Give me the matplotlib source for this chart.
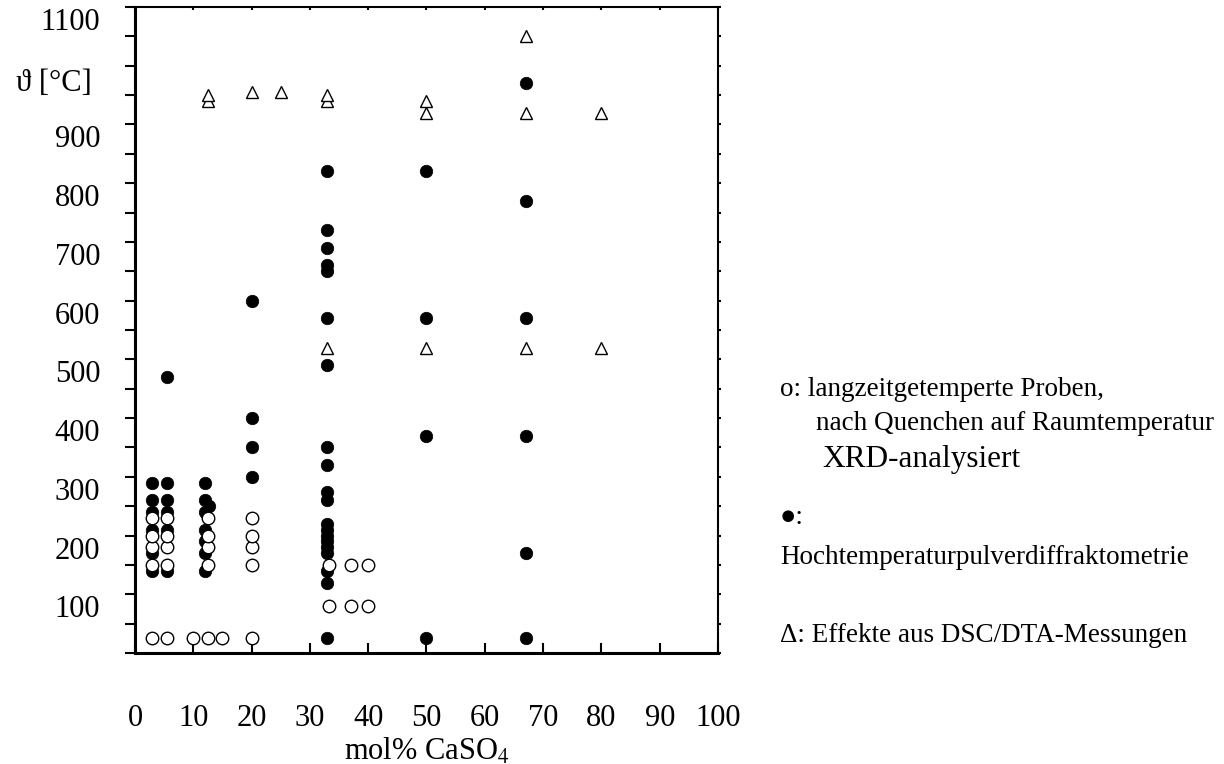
import matplotlib
matplotlib.use('Agg')
import matplotlib.pyplot as plt
from matplotlib.transforms import ScaledTranslation

plt.rcParams['font.family'] = ['Liberation Serif', 'DejaVu Serif']
plt.rcParams['mathtext.fontset'] = 'stix'

# filled circles: Hochtemperaturpulverdiffraktometrie (column x -> temperatures)
hot_cols = [3, 5.5, 12, 12.7, 20, 33, 50, 67]
hot_temps = [
    [140, 170, 210, 240, 260, 290],
    [140, 210, 240, 260, 290, 470],
    [140, 170, 190, 210, 240, 260, 290],
    [250],
    [300, 350, 400, 600],
    [25, 120, 140, 170, 180, 190, 200, 210, 220, 260, 275, 320, 350,
     490, 570, 650, 660, 690, 720, 820],
    [25, 370, 570, 820],
    [25, 170, 370, 570, 770, 970],
]

# open circles: langzeitgetemperte Proben (XRD after quenching)
quench_cols = [3, 5.5, 10, 12.5, 15, 20, 33.3, 37, 40]
quench_temps = [
    [25, 150, 180, 200, 230],
    [25, 150, 180, 200, 230],
    [25],
    [25, 150, 180, 200, 230],
    [25],
    [25, 150, 180, 200, 230],
    [80, 150],
    [80, 150],
    [80, 150],
]

# open triangles: Effekte aus DSC/DTA-Messungen
dsc_cols = [12.5, 20, 25, 33, 50, 67, 80]
dsc_temps = [
    [940, 950],
    [955],
    [955],
    [520, 940, 950],
    [520, 920, 940],
    [520, 920, 1050],
    [520, 920],
]

xticks = list(range(0, 101, 10))
yticks = list(range(0, 1101, 50))
ytick_labels = ['' if (t % 100 or t in (0, 1000)) else str(t) for t in yticks]

legend_lines = [
    ('o: langzeitgetemperte Proben,', 780, 389, 19.5),
    ('nach Quenchen auf Raumtemperatur', 816, 423, 19.5),
    ('XRD-analysiert', 822, 460, 22.5),
    ('\u25cf:', 780, 518, 19.5),
    ('Hochtemperaturpulverdiffraktometrie', 780, 557, 19.5),
    ('\u0394: Effekte aus DSC/DTA-Messungen', 780, 636, 19.5),
]


def expand(cols, temps):
    xs, ys = [], []
    for c, ts in zip(cols, temps):
        xs += [c] * len(ts)
        ys += ts
    return xs, ys


W, H = 1224, 764
fig = plt.figure(figsize=(W / 100, H / 100), dpi=100)
ax = fig.add_axes([135 / W, 1 - 653 / H, (718 - 135) / W, (653 - 7) / H])

x, y = expand(hot_cols, hot_temps)
ax.plot(x, y, 'o', ms=9, color='black', mec='black', mew=0.5, clip_on=False)
x, y = expand(quench_cols, quench_temps)
ax.plot(x, y, 'o', ms=9, mfc='white', mec='black', mew=1.0, clip_on=False)
x, y = expand(dsc_cols, dsc_temps)
ax.plot(x, y, '^', ms=8.5, mfc='white', mec='black', mew=1.0, clip_on=False)

ax.set_xlim(0, 100)
ax.set_ylim(0, 1100)

for side in ['left', 'bottom']:
    ax.spines[side].set_linewidth(2.2)
for side in ['top', 'right']:
    ax.spines[side].set_linewidth(1.5)

ax.tick_params(axis='x', direction='in', length=7, width=1.5, pad=37,
               labelsize=22, top=True)
ax.tick_params(axis='y', direction='out', length=7, width=1.5, pad=18,
               labelsize=22, right=True)
ax.set_xticks(xticks)
ax.set_xticklabels([str(t) for t in xticks])
ax.set_yticks(yticks)
ax.set_yticklabels(ytick_labels)

# short ticks on top / right edges
for t in ax.xaxis.get_major_ticks():
    t.tick2line.set_markersize(2.5)
for t in ax.yaxis.get_major_ticks():
    t.tick2line.set_markersize(2.5)

# the y labels sit a bit below their ticks in the original
shift = ScaledTranslation(0, -0.12, fig.dpi_scale_trans)
for lbl in ax.get_yticklabels():
    lbl.set_transform(lbl.get_transform() + shift)

ax.annotate('\u03d1 [\u00b0C]', xy=(0, 1000), xycoords=('axes fraction', 'data'),
            xytext=(-31, -10), textcoords='offset points',
            ha='right', va='center_baseline', fontsize=22)

ax.set_xlabel('mol% CaSO$_4$', fontsize=22, labelpad=2)

for txt, px, py, size in legend_lines:
    fig.text(px / W, 1 - py / H, txt, fontsize=size, ha='left', va='center')

fig.savefig('out.png', dpi=100)
